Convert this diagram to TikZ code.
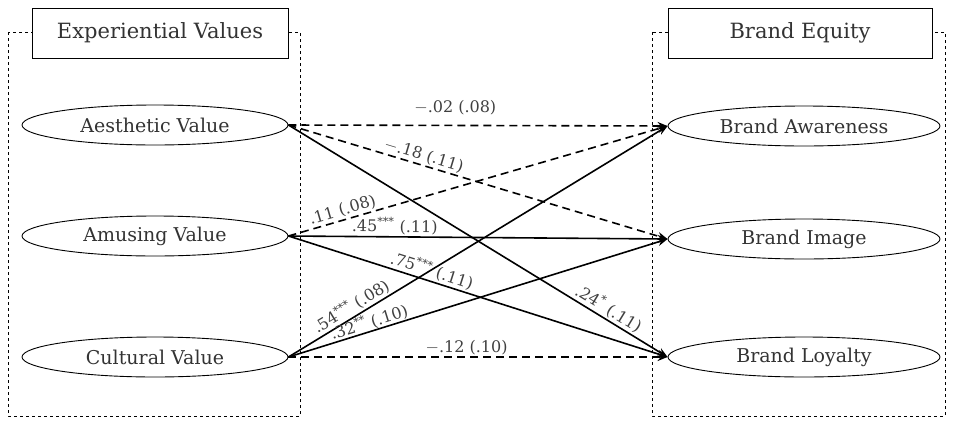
\documentclass[tikz,border=0pt]{standalone}
\usepackage{fontspec}
\setmainfont{DejaVu Serif}
\usetikzlibrary{arrows.meta,positioning,shapes.geometric}

\begin{document}
\begin{tikzpicture}[x=1pt,y=-1pt]
	\tikzstyle{var}
	  =[draw, ellipse, line width=0.9pt, minimum width=266pt, minimum height=40pt,
	  font=\fontsize{19}{22}\selectfont, text=black!80]
	\tikzstyle{title}
	  =[draw, rectangle, line width=0.9pt, minimum width=256pt, minimum height=50pt,
	  font=\fontsize{21}{24}\selectfont, fill=white, text=black!80]
	\tikzstyle{path}
	  =[line width=1.6pt, -{Stealth[length=10pt,width=8pt]}]
	\tikzstyle{ns}
	  =[path, dash pattern=on 8pt off 5pt]
	\tikzstyle{coef}
	  =[font=\fontsize{16}{18}\selectfont, text=black!75, sloped, above, inner sep=1.5pt]

	\useasboundingbox (0,0) rectangle (955,426);
	% construct boxes
	\draw[dashed, line width=0.8pt] (8,32) rectangle (300,416);
	\draw[dashed, line width=0.8pt] (652,32) rectangle (945,416);
	\node[title] (EV) at (160,33) {Experiential Values};
	\node[title, minimum width=264pt] (BE) at (800,33) {Brand Equity};

	% variables
	\node[var] (AE) at (155,125) {Aesthetic Value};
	\node[var] (AM) at (155,236) {Amusing Value};
	\node[var] (CU) at (155,357) {Cultural Value};
	\node[var, minimum width=272pt] (AW) at (804,126) {Brand Awareness};
	\node[var, minimum width=272pt] (IM) at (804,239) {Brand Image};
	\node[var, minimum width=272pt] (LO) at (804,357) {Brand Loyalty};

	% paths
	\draw[ns] (AE.east) -- node[coef, pos=0.44, yshift=8pt] {$-$.02 (.08)} (AW.west);
	\draw[ns] (AE.east) -- node[coef, pos=0.35] {$-$.18 (.11)} (IM.west);
	\draw[path] (AE.east) -- node[coef, pos=0.83] {.24\textsuperscript{*} (.11)} (LO.west);
	\draw[ns] (AM.east) -- node[coef, pos=0.15] {.11 (.08)} (AW.west);
	\draw[path] (AM.east) -- node[coef, pos=0.28] {.45\textsuperscript{***} (.11)} (IM.west);
	\draw[path] (AM.east) -- node[coef, pos=0.37] {.75\textsuperscript{***} (.11)} (LO.west);
	\draw[path] (CU.east) -- node[coef, pos=0.18] {.54\textsuperscript{***} (.08)} (AW.west);
	\draw[path] (CU.east) -- node[coef, pos=0.22, inner sep=0pt] {.32\textsuperscript{**} (.10)} (IM.west);
	\draw[ns] (CU.east) -- node[coef, pos=0.47] {$-$.12 (.10)} (LO.west);
\end{tikzpicture}
\end{document}
